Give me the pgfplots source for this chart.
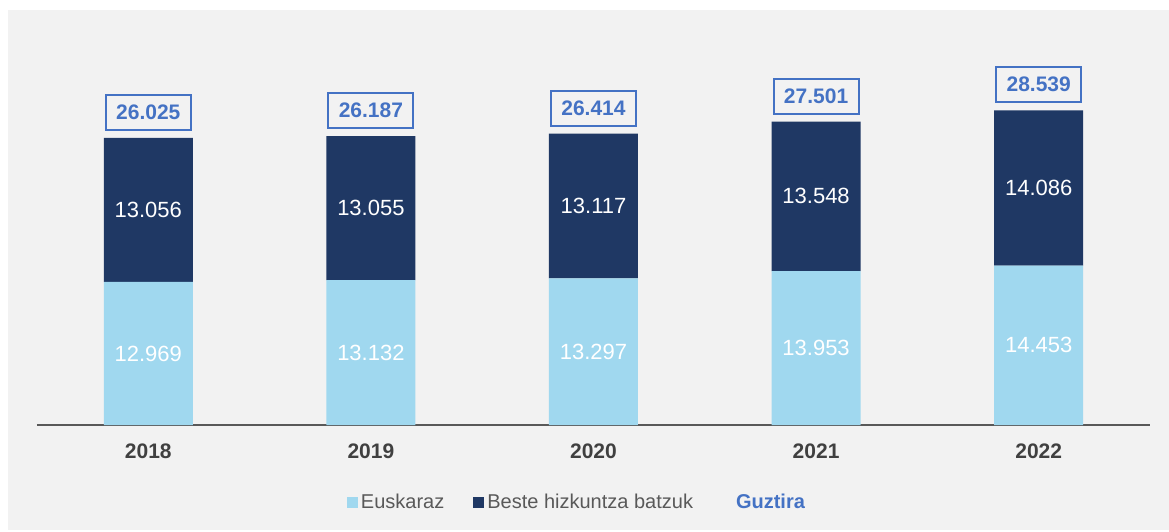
\documentclass[border=0pt]{standalone}
\usepackage{fontspec}
\setmainfont{Liberation Sans}
\usepackage{pgfplots}
\pgfplotsset{compat=1.18}
\usepackage{xcolor}
\definecolor{bgcol}{RGB}{242,242,242}
\definecolor{eusk}{RGB}{160,216,239}
\definecolor{beste}{RGB}{31,56,100}
\definecolor{totcol}{RGB}{68,114,196}
\definecolor{axcol}{RGB}{89,89,89}
\definecolor{labcol}{RGB}{64,64,64}

\begin{document}
\begin{tikzpicture}
\useasboundingbox (0,0) rectangle (584.5pt,265.5pt);
\fill[white] (0,0) rectangle (584.5pt,265.5pt);
\fill[bgcol] (4pt,0.5pt) rectangle (584.5pt,260.5pt);

% shared geometry
\pgfplotsset{
  geom/.style={
    at={(18.5pt,53pt)}, anchor=south west,
    scale only axis, width=556.5pt, height=197.5pt,
    xmin=-0.5, xmax=4.5, ymin=0, ymax=35818,
    clip=false,
  },
}

\begin{axis}[
  geom,
  ybar stacked, bar width=44.5pt,
  axis y line=none, axis x line*=bottom,
  x axis line style={-, draw=axcol, line width=1pt},
  ytick=\empty,
  xtick={0,1,2,3,4},
  xticklabels={2018,2019,2020,2021,2022},
  major tick length=0pt,
  xticklabel style={font=\fontsize{10.5}{12}\selectfont\bfseries, text=labcol, yshift=-6pt},
  legend columns=3,
  legend style={at={(0.4856,-0.197)}, anchor=center, draw=none, fill=none,
    font=\fontsize{10}{12}\selectfont, text=axcol,
    nodes={inner sep=1.5pt},
    /tikz/every odd column/.append style={column sep=0pt},
    /tikz/every even column/.append style={column sep=13pt}},
  legend image code/.code={\fill[#1,draw=none] (0pt,-2.75pt) rectangle (5.5pt,2.75pt);},
]
  \addplot[fill=eusk, draw=none] coordinates {(0,12969)(1,13132)(2,13297)(3,13953)(4,14453)};
  \addlegendentry{Euskaraz}
  \addplot[fill=beste, draw=none] coordinates {(0,13056)(1,13055)(2,13117)(3,13548)(4,14086)};
  \addlegendentry{Beste hizkuntza batzuk}
  \addlegendimage{fill=bgcol, draw=none}
  \addlegendentry{\textcolor{totcol}{\bfseries Guztira}}
\end{axis}

\begin{axis}[
  geom,
  axis lines=none,
  point meta=explicit symbolic,
  nodes near coords,
]
  % value labels, centred in each segment
  \addplot[draw=none, mark=none, nodes near coords,
    every node near coord/.style={anchor=center, text=white, font=\fontsize{11}{13}\selectfont}]
    coordinates {(0,6484.5)[12.969] (1,6566)[13.132] (2,6648.5)[13.297] (3,6976.5)[13.953] (4,7226.5)[14.453]
                 (0,19497)[13.056] (1,19659.5)[13.055] (2,19855.5)[13.117] (3,20727)[13.548] (4,21496)[14.086]};
  % totals
  \addplot[draw=none, mark=none, nodes near coords,
    every node near coord/.style={anchor=south, yshift=3.5pt, draw=totcol, line width=1pt,
      minimum width=42.5pt, minimum height=17.5pt, inner sep=0pt,
      text=totcol, font=\fontsize{10.5}{12}\selectfont\bfseries}]
    coordinates {(0,26025)[26.025] (1,26187)[26.187] (2,26414)[26.414] (3,27501)[27.501] (4,28539)[28.539]};
\end{axis}
\end{tikzpicture}
\end{document}
